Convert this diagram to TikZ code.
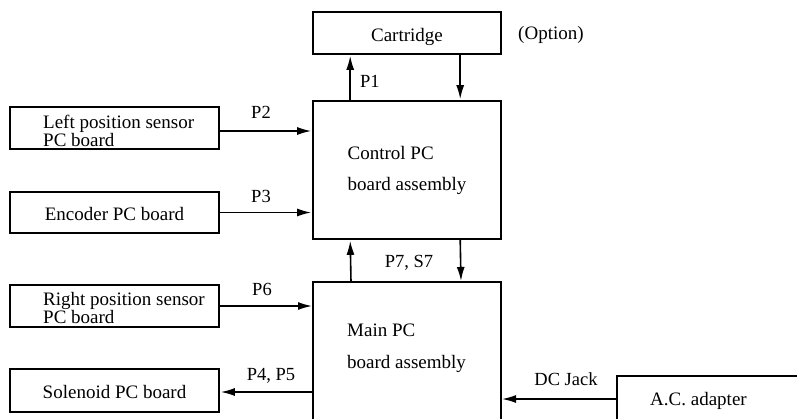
\documentclass[tikz,border=0pt]{standalone}
\usepackage{fontspec}
\setmainfont{Liberation Serif}
\usetikzlibrary{arrows.meta,calc}
\begin{document}
\begin{tikzpicture}[x=1pt,y=-1pt,
  lw/.style={line width=1.6pt},
  boxfont/.style={font=\fontsize{19}{18}\selectfont},
  lblfont/.style={font=\fontsize{18.5}{18}\selectfont, inner sep=0pt},
  blk/.style={draw, lw, rectangle, inner sep=0pt, boxfont, text height=16pt, text depth=0pt},
  hidden/.style={rectangle, inner sep=0pt, outer sep=0pt},
  txt/.style={inner sep=0pt, boxfont, align=left},
  arr/.style={lw, -{Latex[length=14pt,width=8pt]}, shorten >=1pt}
]
\useasboundingbox (0,0) rectangle (797,418);

% blocks
\node[blk, minimum width=188pt, minimum height=42pt] (cart) at (407,33) {Cartridge};
\node[blk, minimum width=188pt, minimum height=138pt, align=left,
      text height=, text depth=, font=\fontsize{19}{31}\selectfont] (ctrl) at (407,170) {Control PC\\board assembly};
\node[hidden, minimum width=188pt, minimum height=142pt] (main) at (407,353) {};
\draw[lw] (main.south west) -- (main.north west) -- (main.north east) -- (main.south east);
\node[txt, anchor=base west, font=\fontsize{19}{32}\selectfont] (maintext) at (347,368) {Main PC\\board assembly};

\node[blk, minimum width=209pt, minimum height=42pt] (lps) at (114.5,128) {};
\node[txt, anchor=base west] (lpstext) at (43,146) {Left position sensor\\PC board};
\node[blk, minimum width=209pt, minimum height=41pt] (enc) at (114.5,212.5) {Encoder PC board};
\node[blk, minimum width=209pt, minimum height=42pt] (rps) at (114.5,306) {};
\node[txt, anchor=base west] (rpstext) at (43,323) {Right position sensor\\PC board};
\node[blk, minimum width=209pt, minimum height=43pt] (sol) at (114.5,390.5) {Solenoid PC board};

\node[hidden, minimum width=180pt, minimum height=48pt] (ac) at (707,400) {};
\draw[lw] (ac.south west) -- (ac.north west) -- (ac.north east);
\node[txt, anchor=base west] (actext) at (650,405) {A.C. adapter};

\node[lblfont, anchor=base west, font=\fontsize{19}{18}\selectfont] (opt) at (518,39) {(Option)};

% connectors
\draw[arr] ([xshift=38pt]ctrl.north west) -- ([xshift=38pt]cart.south west);
\draw[arr] ([xshift=148pt]cart.south west) -- ([xshift=148pt]ctrl.north west);
\draw[arr] ([xshift=38pt]main.north west) -- ([xshift=38pt]ctrl.south west);
\draw[arr] ([xshift=148pt]ctrl.south west) -- ([xshift=148pt]main.north west);
\draw[arr] ([yshift=-3pt]lps.east) -- ([yshift=-3pt]lps.east -| ctrl.west);
\draw[arr] (enc.east) -- (enc.east -| ctrl.west);
\draw[arr] (rps.east) -- (rps.east -| main.west);
\draw[arr] ([yshift=-1.5pt]sol.east -| main.west) -- ([yshift=-1.5pt]sol.east);
\draw[arr] ([yshift=1pt]ac.west) -- ([yshift=1pt]ac.west -| main.east);

% labels
\node[lblfont, anchor=base west] (lp1) at (360,87) {P1};
\node[lblfont, anchor=base] (lp2) at (261,118) {P2};
\node[lblfont, anchor=base] (lp3) at (261,202) {P3};
\node[lblfont, anchor=base] (lp6) at (262,295) {P6};
\node[lblfont, anchor=base] (lp45) at (271,380) {P4, P5};
\node[lblfont, anchor=base] (lp7) at (409,267) {P7, S7};
\node[lblfont, anchor=base] (ldc) at (566,385) {DC Jack};
\end{tikzpicture}
\end{document}
